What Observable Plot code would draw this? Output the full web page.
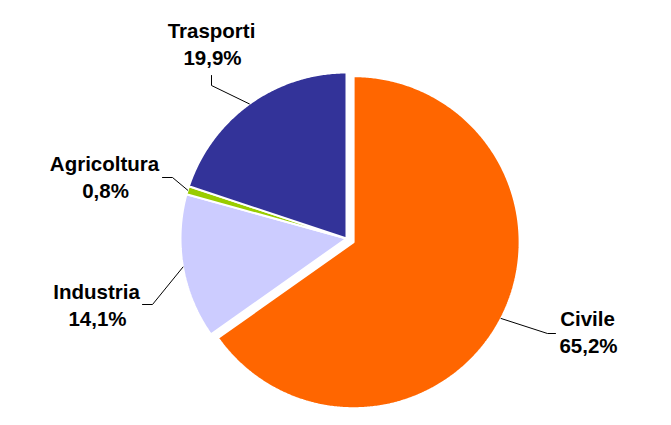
<!DOCTYPE html>
<html><head><meta charset="utf-8">
<script src="https://cdn.jsdelivr.net/npm/d3@7"></script>
<script src="https://cdn.jsdelivr.net/npm/@observablehq/plot@0.6"></script>
<style>body{margin:0;background:#fff}</style>
</head><body><div id="chart"></div>
<script>
// ---- data ----
const categories = ["Civile", "Industria", "Agricoltura", "Trasporti"];
const values = [65.2, 14.1, 0.8, 19.9];

// ---- layout / style (not data) ----
const colors = ["#FF6600", "#CCCCFF", "#99CC00", "#333399"];
const W = 671, H = 425;
const cx = 346, cy = 238, R = 166;
const explode = [8, 0, 0, 0];
const labelPos = [[587, 325], [96, 298], [104, 170], [211, 37]]; // name baseline
const elbow = [[547, 333], [152, 304], [172, 177], [211, 85]];
const lineEnd = [[555, 333], [142, 304], [162, 177], [211, 75]];
const fs = 20.5, lineGap = 27;

const total = d3.sum(values);
const slices = [];
const leaders = [];
const labels = [];
let acc = 0;
categories.forEach((name, i) => {
  const a0 = acc / total * 2 * Math.PI;
  acc += values[i];
  const a1 = acc / total * 2 * Math.PI;
  const mid = (a0 + a1) / 2;
  const ox = cx + explode[i] * Math.sin(mid), oy = cy - explode[i] * Math.cos(mid);
  const pts = [{name, x: ox, y: oy}];
  const n = Math.max(2, Math.ceil((a1 - a0) / (Math.PI / 360)));
  for (let k = 0; k <= n; k++) {
    const a = a0 + (a1 - a0) * k / n;
    pts.push({name, x: ox + R * Math.sin(a), y: oy - R * Math.cos(a)});
  }
  slices.push(pts);
  leaders.push([
    {name, x: ox + R * Math.sin(mid), y: oy - R * Math.cos(mid)},
    {name, x: elbow[i][0], y: elbow[i][1]},
    {name, x: lineEnd[i][0], y: lineEnd[i][1]}
  ]);
  labels.push({name, pct: values[i].toFixed(1).replace(".", ",") + "%", x: labelPos[i][0], y: labelPos[i][1]});
});

const marks = [];
slices.forEach((pts, i) => {
  marks.push(Plot.line(pts, {x: "x", y: "y", curve: "linear-closed", fill: colors[i], stroke: "white", strokeWidth: 2, strokeLinejoin: "miter"}));
});
leaders.forEach(pts => {
  marks.push(Plot.line(pts, {x: "x", y: "y", stroke: "#000", strokeWidth: 1}));
});
marks.push(Plot.text(labels, {x: "x", y: d => d.y - 0.32 * fs, text: "name", fontSize: fs, fontWeight: "bold", fill: "#000", textAnchor: "middle"}));
marks.push(Plot.text(labels, {x: d => d.x + 1, y: d => d.y + lineGap - 0.32 * fs, text: "pct", fontSize: fs, fontWeight: "bold", fill: "#000", textAnchor: "middle"}));

const chart = Plot.plot({
  width: W, height: H,
  margin: 0,
  x: {domain: [0, W], range: [0, W], axis: null},
  y: {domain: [0, H], range: [0, H], axis: null},
  style: {fontFamily: "'Liberation Sans', Arial, sans-serif", background: "white"},
  marks
});
document.getElementById("chart").appendChild(chart);
</script>
</body></html>
